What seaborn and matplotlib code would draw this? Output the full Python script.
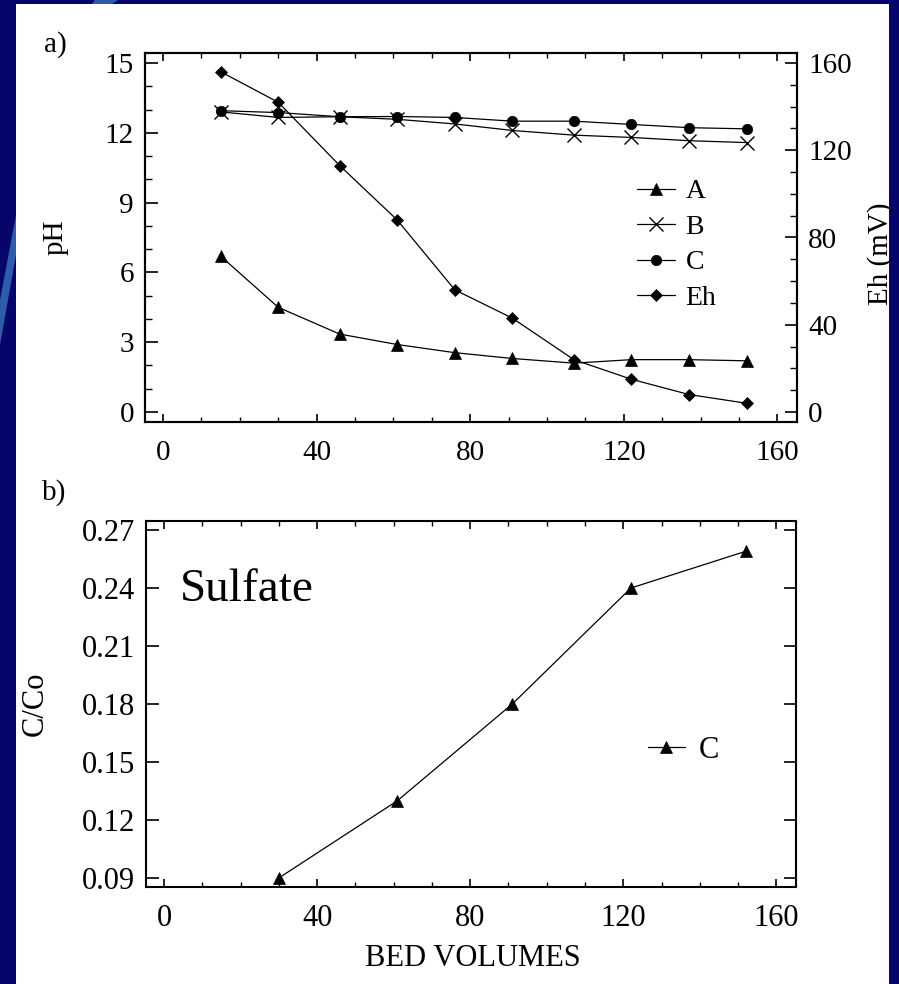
import numpy as np
import pandas as pd
import matplotlib
matplotlib.use("Agg")
import matplotlib.pyplot as plt
import seaborn as sns
from matplotlib.patches import Rectangle, Polygon
from matplotlib.ticker import MultipleLocator

# ---------------- data ----------------
bed_volumes = [15, 30, 46, 61, 76, 91, 107, 122, 137, 152]
ph_A = [6.7, 4.5, 3.35, 2.9, 2.55, 2.3, 2.1, 2.25, 2.25, 2.2]
ph_B = [12.9, 12.66, 12.69, 12.58, 12.38, 12.1, 11.9, 11.8, 11.66, 11.58]
ph_C = [12.95, 12.87, 12.69, 12.7, 12.66, 12.5, 12.5, 12.36, 12.22, 12.17]
eh_mV = [156, 142, 113, 88, 56, 43, 24, 15, 8, 4]

sulfate_bv = [30, 61, 91, 122, 152]
sulfate_cco = [0.09, 0.13, 0.18, 0.24, 0.259]

x_ticks = [0, 40, 80, 120, 160]
ph_ticks = [0, 3, 6, 9, 12, 15]
eh_ticks = [0, 40, 80, 120, 160]
cco_ticks = [0.09, 0.12, 0.15, 0.18, 0.21, 0.24, 0.27]

# ---------------- style ----------------
sns.set_theme(style="ticks")
plt.rcParams["font.family"] = ["Liberation Serif", "DejaVu Serif"]
plt.rcParams["axes.linewidth"] = 1.5
for key in ("text.color", "axes.labelcolor", "xtick.color", "ytick.color", "axes.edgecolor"):
    plt.rcParams[key] = "black"

W, H = 899, 984
fig = plt.figure(figsize=(W / 100, H / 100), dpi=100)
fig.patch.set_facecolor("#05056a")

# light decorative stripes of the slide background
fig.patches.append(Polygon([[0, 1 - 345 / H], [16 / W, 1 - 255 / H], [16 / W, 1 - 215 / H], [0, 1 - 300 / H]],
                           closed=True, transform=fig.transFigure, facecolor="#2d5da8", edgecolor="none", zorder=-3))
fig.patches.append(Polygon([[95 / W, 1.0], [118 / W, 1.0], [112 / W, 1 - 4 / H], [92 / W, 1 - 4 / H]],
                           closed=True, transform=fig.transFigure, facecolor="#2d5da8", edgecolor="none", zorder=-3))
# white slide panel
fig.patches.append(Rectangle((16 / W, 0), (889 - 16) / W, 1 - 4 / H, transform=fig.transFigure,
                             facecolor="white", edgecolor="none", zorder=-2))

def px_axes(l, t, r, b):
    return [l / W, 1 - b / H, (r - l) / W, (b - t) / H]

xlim = ((145 - 163) / 3.84, (797 - 163) / 3.84)
LW = 0.9
mk = dict(color="black", markeredgecolor="black", markerfacecolor="black", linewidth=LW, estimator=None)

# ---------------- panel a ----------------
ax = fig.add_axes(px_axes(145, 53, 797, 422))
ax.set_facecolor("none")
ax2 = ax.twinx()
ax2.set_facecolor("none")

sns.lineplot(x=bed_volumes, y=ph_A, ax=ax, marker="^", markersize=8.5, markeredgewidth=0.5, label="A", **mk)
sns.lineplot(x=bed_volumes, y=ph_B, ax=ax, marker="x", markersize=10, markeredgewidth=1.0, label="B", **mk)
sns.lineplot(x=bed_volumes, y=ph_C, ax=ax, marker="o", markersize=7.5, markeredgewidth=0.5, label="C", **mk)
sns.lineplot(x=bed_volumes, y=eh_mV, ax=ax2, marker="D", markersize=6, markeredgewidth=0.5, label="Eh", **mk)

ax.set_xlim(*xlim)
ph_scale = 349 / 15
ax.set_ylim(-10 / ph_scale, 15 + 10 / ph_scale)
eh_lo, eh_hi = ax.get_ylim()
ax2.set_ylim(eh_lo * 160 / 15, eh_hi * 160 / 15)

ax.set_xticks(x_ticks)
ax.xaxis.set_minor_locator(MultipleLocator(10))
ax.set_yticks(ph_ticks)
ax.yaxis.set_minor_locator(MultipleLocator(1))
ax2.set_yticks(eh_ticks)
ax2.yaxis.set_minor_locator(MultipleLocator(10))

ax.tick_params(axis="x", which="major", direction="in", top=True, bottom=True, length=6, width=1.2,
               labelsize=21, pad=13)
ax.tick_params(axis="x", which="minor", direction="in", top=True, bottom=True, length=3.5, width=1.0)
ax.tick_params(axis="y", which="major", direction="in", left=True, right=False, length=9, width=1.2,
               labelsize=21, pad=8)
ax.tick_params(axis="y", which="minor", direction="in", left=True, right=False, length=5, width=1.0)
ax2.tick_params(axis="y", which="major", direction="in", right=True, length=9, width=1.2,
                labelsize=21, pad=8)
ax2.tick_params(axis="y", which="minor", direction="in", right=True, length=5, width=1.0)
for a in (ax, ax2):
    for s in a.spines.values():
        s.set_visible(True)
        s.set_linewidth(1.5)
        s.set_color("black")

ax.set_ylabel("pH", fontsize=21)
ax.yaxis.set_label_coords((69 - 145) / 652, 0.5)
ax2.set_ylabel("Eh (mV)", fontsize=21)
ax2.yaxis.set_label_coords((867 - 145) / 652, 1 - (254 - 53) / 369)

if ax.get_legend() is not None:
    ax.get_legend().remove()
h1, l1 = ax.get_legend_handles_labels()
h2, l2 = ax2.get_legend_handles_labels()
ax2.legend(h1 + h2, l1 + l2, loc="upper left", bbox_to_anchor=(637 / W, 1 - 179 / H),
           bbox_transform=fig.transFigure, frameon=False, fontsize=20, handlelength=1.35,
           handletextpad=0.4, labelspacing=0.36, borderpad=0, borderaxespad=0)

fig.text(55 / W, 1 - 45 / H, "a)", fontsize=21, ha="center", va="center")

# ---------------- panel b ----------------
bx = fig.add_axes(px_axes(146, 521, 796, 887))
bx.set_facecolor("none")
sns.lineplot(x=sulfate_bv, y=sulfate_cco, ax=bx, marker="^", markersize=8.5, markeredgewidth=0.5,
             label="C", **mk)
bx.set_xlim(*xlim)
c_scale = 348 / 0.18
bx.set_ylim(0.09 - 9 / c_scale, 0.27 + 9 / c_scale)
bx.set_xticks(x_ticks)
bx.xaxis.set_minor_locator(MultipleLocator(10))
bx.set_yticks(cco_ticks)
bx.set_yticklabels([f"{v:.2f}" for v in cco_ticks])
bx.tick_params(axis="x", which="major", direction="in", top=True, bottom=True, length=6, width=1.2,
               labelsize=22, pad=12)
bx.tick_params(axis="x", which="minor", direction="in", top=True, bottom=True, length=3.5, width=1.0)
bx.tick_params(axis="y", which="major", direction="in", left=True, right=True, length=9, width=1.2,
               labelsize=22, pad=8)
for s in bx.spines.values():
    s.set_visible(True)
    s.set_linewidth(1.5)
    s.set_color("black")

bx.set_ylabel("C/Co", fontsize=22)
bx.yaxis.set_label_coords((50 - 146) / 650, 0.5)
bx.set_xlabel("BED VOLUMES", fontsize=22)
bx.xaxis.set_label_coords((473 - 146) / 650, -(944 - 887) / 366)
bx.xaxis.label.set_va("top")

hb, lb = bx.get_legend_handles_labels()
bx.legend(hb, lb, loc="upper left", bbox_to_anchor=(648 / W, 1 - 736 / H), bbox_transform=fig.transFigure,
          frameon=False, fontsize=22, handlelength=1.2, handletextpad=0.45, borderpad=0, borderaxespad=0)

bx.text((247 - 146) / 650, 1 - (590 - 521) / 366, "Sulfate", transform=bx.transAxes, fontsize=34,
        ha="center", va="center")
fig.text(54 / W, 1 - 493 / H, "b)", fontsize=21, ha="center", va="center")

fig.savefig("out.png", dpi=100, facecolor=fig.get_facecolor())
